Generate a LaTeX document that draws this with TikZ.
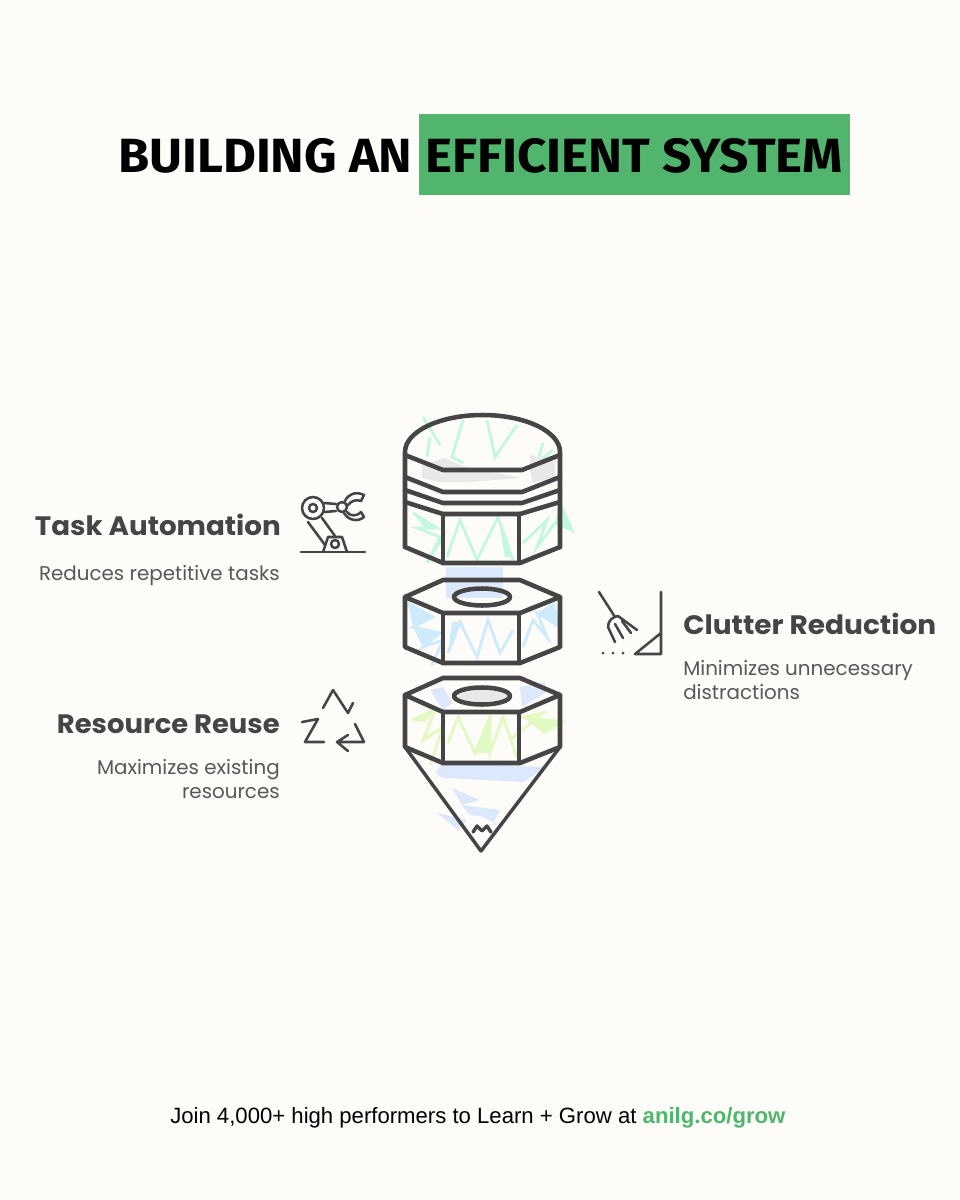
\documentclass[tikz,border=0pt]{standalone}
\usepackage{fontspec}
\setmainfont{Liberation Sans}
\newfontfamily\titlefont{Fira Sans}[UprightFont=* Bold]
\newfontfamily\handfont{Poppins}
\newfontfamily\footfont{Liberation Sans}
\definecolor{bgc}{HTML}{FDFCF8}
\definecolor{greenbar}{HTML}{52B56E}
\definecolor{ink}{HTML}{454545}
\definecolor{mint}{HTML}{C4F7E0}
\definecolor{skyb}{HTML}{CDEBFD}
\definecolor{peri}{HTML}{DCE8FC}
\definecolor{lime}{HTML}{E2F9C4}
\definecolor{greyb}{HTML}{E8E8E6}
\tikzset{
  thick ink/.style={draw=ink,line width=3.4pt,line join=round,line cap=round},
  thin ink/.style={draw=ink,line width=2.6pt,line join=round,line cap=round},
  icon/.style={draw=ink,line width=1.9pt,line join=round,line cap=round},
  scrib/.style={line width=2.1pt,line join=miter,line cap=butt},
  title/.style={font=\titlefont\fontsize{36}{40}\selectfont,inner sep=0pt,text=black,anchor=base west},
  head/.style={font=\handfont\bfseries\fontsize{20}{24}\selectfont,text=ink,inner sep=0pt},
  sub/.style={font=\handfont\fontsize{14.9}{18}\selectfont,text=ink!90,inner sep=0pt,align=left},
  foot/.style={font=\footfont\fontsize{16.6}{18}\selectfont,inner sep=0pt,anchor=base west}
}
\begin{document}
\begin{tikzpicture}[x=0.75pt,y=-0.75pt]
\useasboundingbox (0,0) rectangle (960,1200);
\fill[bgc] (0,0) rectangle (960,1200);
% title
\fill[greenbar] (419,114) rectangle (850,195);
\node[title] (t1) at (118,172) {\scalebox{1.054}[1]{BUILDING AN}};
\node[title] (t2) at (425,172) {\scalebox{1.067}[1]{EFFICIENT SYSTEM}};
% colour scribbles: cap, mint
\draw[scrib,mint] (423,417) -- (440,445) (430,437) -- (427,457);
\draw[scrib,mint] (463,420) -- (452,457) -- (463,463);
\draw[scrib,mint] (487,420) -- (495,457) -- (517,425);
\draw[scrib,mint] (543,443) -- (537,463) -- (553,450);
\draw[scrib,mint] (413,513) -- (437,528) -- (417,528) -- (440,537) -- (427,563) -- (445,533);
\draw[scrib,mint] (447,557) -- (460,520) -- (477,560) -- (498,517) -- (513,560);
\fill[mint] (498,517) -- (513,557) -- (505,557) -- cycle;
\fill[mint] (413,513) -- (437,528) -- (425,528) -- cycle;
\draw[scrib,mint] (523,543) -- (547,520) -- (537,547) -- (555,523) -- (572,530) -- (560,503);
\fill[mint] (547,520) -- (572,530) -- (560,503) -- (555,523) -- cycle;
% nut one, sky
\fill[peri] (446,567) rectangle (503,598);
\draw[scrib,skyb] (408,603) -- (433,617) -- (413,627) -- (440,633) -- (423,647) -- (443,640) -- (432,665);
\fill[skyb] (408,603) -- (433,617) -- (413,627) -- cycle;
\fill[skyb] (413,627) -- (440,633) -- (423,647) -- cycle;
\draw[scrib,skyb] (448,653) -- (460,622) -- (477,657) -- (488,620) -- (500,653) -- (513,630);
\fill[skyb] (448,653) -- (460,622) -- (452,622) -- cycle;
\draw[scrib,skyb] (523,647) -- (533,620) -- (547,637) -- (537,613) -- (560,627) -- (553,603);
\fill[skyb] (537,613) -- (560,627) -- (553,603) -- cycle;
% nut two, periwinkle and lime
\fill[peri] (430,690) -- (443,687) -- (452,703) -- (443,710) -- cycle;
\fill[peri] (520,687) -- (545,682) -- (547,692) -- (522,707) -- cycle;
\draw[scrib,lime] (412,720) -- (435,710) -- (423,740) -- (443,727) -- (430,765);
\fill[lime] (412,720) -- (435,710) -- (425,722) -- cycle;
\draw[scrib,lime] (448,743) -- (458,717) -- (475,753) -- (490,717) -- (490,753) -- (503,717) -- (517,757);
\fill[lime] (475,753) -- (490,717) -- (490,753) -- cycle;
\draw[scrib,lime] (510,740) -- (543,713) -- (523,717) -- (563,722) -- (543,733);
\fill[lime] (523,717) -- (563,722) -- (543,733) -- cycle;
% cone, periwinkle
\fill[peri] (443,763) -- (547,767) -- (523,782) -- (443,778) -- (435,773) -- cycle;
\fill[peri] (452,788) -- (480,800) -- (462,805) -- cycle;
\fill[peri] (462,805) -- (500,810) -- (493,823) -- (507,828) -- (480,816) -- (470,815) -- cycle;
\fill[peri] (437,813) -- (467,820) -- (458,830) -- cycle;
% grey shading
\fill[greyb] (422,465) -- (445,458) -- (460,465) -- (520,478) -- (470,482) -- (440,482) -- (422,478) -- cycle;
\fill[greyb] (530,455) -- (555,462) -- (555,477) -- (533,483) -- (530,470) -- cycle;
\fill[greyb] (482,696) ellipse [x radius=24,y radius=6];
% top cap
\draw[thick ink] (405,547) -- (405,452) arc[start angle=180,end angle=360,x radius=77.5,y radius=37] -- (560,547);
\draw[thick ink] (405,455) -- (443,470) -- (522,470) -- (560,455);
\draw[thick ink] (405,477) -- (443,492) -- (522,492) -- (560,477);
\draw[thick ink] (405,490) -- (443,503) -- (522,503) -- (560,490);
\draw[thick ink] (405,547) -- (443,563) -- (520,563) -- (560,547);
\draw[thick ink] (405,502) -- (443,514) -- (520,514) -- (560,502);
\draw[thick ink] (443,514) -- (443,563) (519,514) -- (519,563);
% first nut
\draw[thick ink] (405,597) -- (443,580) -- (520,580) -- (560,597) -- (560,647) -- (520,663) -- (443,663) -- (405,647) -- cycle;
\draw[thick ink] (405,597) -- (443,613) -- (520,613) -- (560,597);
\draw[thick ink] (443,613) -- (443,663) (519,613) -- (519,663);
\draw[thick ink] (482,597) ellipse [x radius=28,y radius=8.5];
% second nut
\draw[thick ink] (405,695) -- (443,678) -- (520,678) -- (560,695) -- (560,747) -- (520,763) -- (443,763) -- (405,747) -- cycle;
\draw[thick ink] (405,695) -- (443,712) -- (520,712) -- (560,695);
\draw[thick ink] (443,712) -- (443,763) (519,712) -- (519,763);
\draw[thick ink] (482,696) ellipse [x radius=28,y radius=8.5];
% cone
\draw[thin ink] (405,747) -- (481,851) -- (560,747);
\draw[thin ink] (473,832) -- (477,826) -- (482,831) -- (487,826) -- (491,832);
% robot icon
\draw[icon] (301,552) -- (365,552);
\draw[icon] (323,552) -- (328,537) -- (342,537) -- (347,552);
\draw[icon] (335,544) circle (4);
\draw[icon] (308,522) -- (325,545) (322,518) -- (335,536);
\draw[icon] (313,508) circle (11) (313,508) circle (4);
\draw[icon] (324,503) -- (336,504) (324,512) -- (336,511);
\draw[icon] (342,507) circle (5);
\draw[icon] (345,501) .. controls (348,494) and (356,491) .. (364,495) -- (361,501) .. controls (356,499) and (351,501) .. (348,505);
\draw[icon] (347,512) .. controls (350,516) and (356,517) .. (361,512) -- (364,517) .. controls (358,522) and (349,521) .. (344,513);
% broom icon
\draw[icon] (661,592) -- (661,654) -- (635,654) -- (661,633);
\draw[icon] (599,592) -- (615,617);
\draw[icon] (608,627) .. controls (608,621) and (612,617) .. (618,616) -- (637,630);
\draw[icon] (608,627) -- (615,642) (615,624) -- (623,638) (622,621) -- (631,633);
\fill[ink] (603,653) circle (1.5) (613,653) circle (1.5) (623,653) circle (1.5);
% recycle icon
\draw[icon] (323,708) -- (333,690) -- (348,713) -- (353,703);
\draw[icon] (302,722) -- (318,719) -- (305,742) -- (324,742);
\draw[icon] (355,724) -- (364,742) -- (337,742) -- (348,735) (337,742) -- (348,751);
% labels
\node[head,anchor=base east] (h1) at (281,535) {\scalebox{1.04}[1]{Task Automation}};
\node[sub,anchor=base east] (s1) at (280,580) {Reduces repetitive tasks};
\node[head,anchor=base west] (h2) at (683,634) {\scalebox{1.05}[1]{Clutter Reduction}};
\node[sub,anchor=base west] (s2) at (683,675) {Minimizes unnecessary};
\node[sub,anchor=base west] (s2b) at (683,699) {distractions};
\node[head,anchor=base east] (h3) at (280,733) {\scalebox{1.03}[1]{Resource Reuse}};
\node[sub,anchor=base east] (s3) at (280,774) {Maximizes existing};
\node[sub,anchor=base east] (s3b) at (280,798) {resources};
% footer
\node[foot] (f1) at (170,1123) {Join 4,000+ high performers to Learn + Grow at \textcolor{greenbar}{\bfseries anilg.co/grow}};
\end{tikzpicture}
\end{document}
